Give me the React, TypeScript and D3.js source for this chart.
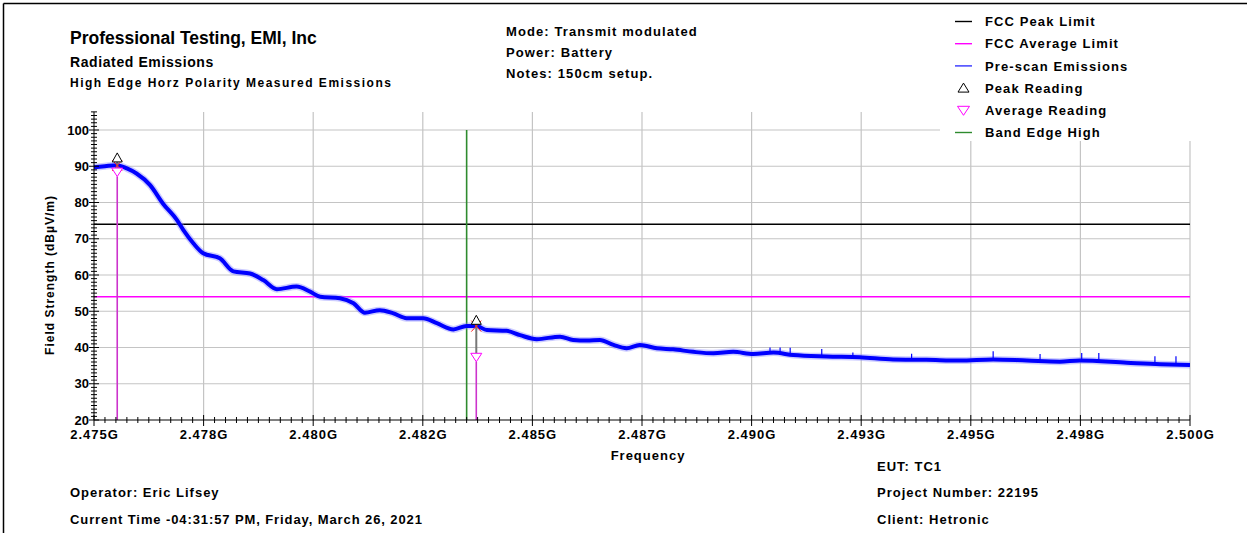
import React from 'react';
import * as d3 from 'd3';

// Frequency axis (GHz) and labels
const xTickFreqs = [2.475, 2.4775, 2.48, 2.4825, 2.485, 2.4875, 2.49, 2.4925, 2.495, 2.4975, 2.5];
const xTickLabels = ['2.475G', '2.478G', '2.480G', '2.482G', '2.485G', '2.487G', '2.490G', '2.493G', '2.495G', '2.498G', '2.500G'];
const yTicks = [20, 30, 40, 50, 60, 70, 80, 90, 100];

// Pre-scan emissions trace (GHz, dBµV/m)
const traceFreqs = [
  2.475, 2.47525, 2.47552, 2.47575, 2.47597, 2.47628, 2.47658, 2.47689, 2.47704, 2.47727,
  2.47749, 2.47787, 2.47818, 2.47856, 2.47886, 2.47917, 2.47962, 2.47993, 2.48016, 2.48061,
  2.48092, 2.48118, 2.48152, 2.48183, 2.48213, 2.48251, 2.48282, 2.4832, 2.4835, 2.48373,
  2.48396, 2.48441, 2.48472, 2.4851, 2.48563, 2.48593, 2.48624, 2.48654, 2.48685, 2.48715,
  2.48745, 2.48784, 2.48821, 2.48867, 2.48913, 2.48958, 2.49004, 2.4905, 2.49095, 2.49171,
  2.49247, 2.49323, 2.49399, 2.49475, 2.49551, 2.49628, 2.49703, 2.49749, 2.49856, 2.49932, 2.5,
];
const traceLevels = [
  89.7, 90.0, 90.3, 89.4, 88.0, 84.8, 79.6, 75.2, 72.4, 68.7,
  66.0, 64.6, 61.0, 60.4, 58.6, 56.1, 56.8, 55.4, 54.0, 53.6,
  52.2, 49.6, 50.3, 49.4, 48.1, 48.1, 46.7, 45.0, 45.9, 45.9,
  44.8, 44.6, 43.4, 42.3, 43.0, 42.1, 41.9, 42.1, 40.7, 39.8,
  40.7, 39.8, 39.5, 38.8, 38.4, 38.8, 38.2, 38.6, 37.9, 37.5,
  37.3, 36.7, 36.6, 36.4, 36.7, 36.4, 36.1, 36.4, 35.8, 35.4, 35.2,
];

// Isolated spikes on the noise floor (GHz, low, high dBµV/m)
const spikeFreqs = [2.49042, 2.49065, 2.49088, 2.4916, 2.49231, 2.49365, 2.49551, 2.49658, 2.49753, 2.49792, 2.4992, 2.49968];
const spikeLows = [38.5, 38.4, 38.2, 37.6, 37.3, 36.6, 36.7, 36.4, 36.4, 36.3, 35.5, 35.3];
const spikeHighs = [40.0, 40.0, 39.9, 39.6, 38.6, 38.3, 39.0, 38.2, 38.5, 38.5, 37.6, 37.6];

// Limits and band edge
const fccPeakLimit = 74;
const fccAverageLimit = 54;
const bandEdgeHigh = 2.4835;

// Final readings
const readingFreqs = [2.47553, 2.48372];
const peakReadings = [91.2, 46.4];
const averageReadings = [89.5, 38.4];
const prescanAtReading = [90.2, 45.9];

const legendLabels = ['FCC Peak Limit', 'FCC Average Limit', 'Pre-scan Emissions', 'Peak Reading', 'Average Reading', 'Band Edge High'];
const legendColors = ['#000000', '#ff00ff', '#3333ff', '#000000', '#ff00ff', '#2e8b2e'];

const font = '"Liberation Sans", Arial, sans-serif';

export default function App() {
  const x = d3.scaleLinear().domain([2.475, 2.5]).range([94, 1190]);
  const y = d3.scaleLinear().domain([20, 100]).range([420, 130]);
  const yTop = y(105);
  const x0 = x(2.475);
  const x1 = x(2.5);
  const y0 = y(20);

  const line = d3
    .line<number>()
    .x((_, i) => x(traceFreqs[i]))
    .y((d) => y(d))
    .curve(d3.curveMonotoneX);
  const tracePath = line(traceLevels) || '';

  const yMinor = d3.range(21, 106).filter((v) => v % 10 !== 0);
  const xMinor = d3.range(1, 100).filter((i) => i % 10 !== 0).map((i) => 2.475 + i * 0.00025);

  const textStyle = { fontFamily: font, fontWeight: 700 as const, fill: '#000' };

  return (
    <div>
      <svg width={1247} height={533} style={{ position: 'absolute', left: 0, top: 0, background: '#fff' }}>
        {/* frame */}
        <line x1={3.5} y1={3.5} x2={1247} y2={3.5} stroke="#000" strokeWidth={1.5} />
        <line x1={3.5} y1={3.5} x2={3.5} y2={533} stroke="#000" strokeWidth={1.5} />

        {/* grid */}
        {xTickFreqs.slice(1).map((f) => (
          <line key={'gx' + f} x1={x(f)} x2={x(f)} y1={yTop} y2={y0} stroke="#c4c4c4" strokeWidth={1.2} />
        ))}
        {yTicks.slice(1).map((v) => (
          <line key={'gy' + v} x1={x0} x2={x1} y1={y(v)} y2={y(v)} stroke="#c4c4c4" strokeWidth={1.2} />
        ))}

        {/* limit lines */}
        <line x1={x0} x2={x1} y1={y(fccPeakLimit)} y2={y(fccPeakLimit)} stroke="#000" strokeWidth={1.4} />
        <line x1={x0} x2={x1} y1={y(fccAverageLimit)} y2={y(fccAverageLimit)} stroke="#ff00ff" strokeWidth={1.4} />

        {/* band edge */}
        <line x1={x(bandEdgeHigh)} x2={x(bandEdgeHigh)} y1={y(100)} y2={y0} stroke="#2e8b2e" strokeWidth={1.6} />

        {/* pre-scan trace */}
        <path d={tracePath} fill="none" stroke="#7f7fff" strokeWidth={7} strokeOpacity={0.4} strokeLinejoin="round" />
        <path d={tracePath} fill="none" stroke="#0000ff" strokeWidth={4} strokeLinejoin="round" />
        {spikeFreqs.map((f, i) => (
          <line key={'sp' + i} x1={x(f)} x2={x(f)} y1={y(spikeLows[i])} y2={y(spikeHighs[i])} stroke="#0000ff" strokeWidth={1.2} />
        ))}

        {/* readings */}
        {readingFreqs.map((f, i) => {
          const cx = x(f);
          const yp = y(peakReadings[i]);
          const ya = y(averageReadings[i]);
          const yx = y(prescanAtReading[i]);
          return (
            <g key={'rd' + i}>
              <line x1={cx} x2={cx} y1={yp} y2={ya} stroke="#777" strokeWidth={2} />
              <line x1={cx} x2={cx} y1={ya + 8.5} y2={y0} stroke="#cc33cc" strokeWidth={1.6} />
              <line x1={cx - 5} x2={cx + 5} y1={yx - 5.5} y2={yx + 5.5} stroke="#ff2020" strokeWidth={1} />
              <line x1={cx - 5} x2={cx + 5} y1={yx + 5.5} y2={yx - 5.5} stroke="#ff2020" strokeWidth={1} />
              <path d={`M${cx},${yp - 9} L${cx + 5},${yp} L${cx - 5},${yp} Z`} fill="#fff" stroke="#000" strokeWidth={1} />
              <path d={`M${cx - 5.5},${ya} L${cx + 5.5},${ya} L${cx},${ya + 8.5} Z`} fill="#fff" stroke="#ff00ff" strokeWidth={1} />
            </g>
          );
        })}

        {/* axes */}
        <line x1={x0} x2={x0} y1={yTop} y2={y0} stroke="#000" strokeWidth={1} />
        <line x1={x0} x2={x1} y1={y0} y2={y0} stroke="#000" strokeWidth={1} />
        {yMinor.map((v) => (
          <line key={'ym' + v} x1={x0 - 3} x2={x0 + 3} y1={y(v)} y2={y(v)} stroke="#000" strokeWidth={1} />
        ))}
        {yTicks.map((v) => (
          <line key={'yM' + v} x1={x0 - 5} x2={x0 + 5} y1={y(v)} y2={y(v)} stroke="#000" strokeWidth={1} />
        ))}
        {xMinor.map((f, i) => (
          <line key={'xm' + i} x1={x(f)} x2={x(f)} y1={y0 - 3} y2={y0 + 3} stroke="#000" strokeWidth={1} />
        ))}
        {xTickFreqs.map((f) => (
          <line key={'xM' + f} x1={x(f)} x2={x(f)} y1={y0 - 5} y2={y0 + 6} stroke="#000" strokeWidth={1} />
        ))}

        {/* tick labels */}
        {yTicks.map((v) => (
          <text key={'yl' + v} x={89} y={y(v) + 4.6} textAnchor="end" fontSize={13} style={textStyle}>
            {v}
          </text>
        ))}
        {xTickFreqs.map((f, i) => (
          <text key={'xl' + f} x={x(f) + 0.5} y={438.5} textAnchor="middle" fontSize={13} letterSpacing={1} style={textStyle}>
            {xTickLabels[i]}
          </text>
        ))}

        {/* axis titles */}
        <text x={648} y={459.5} textAnchor="middle" fontSize={13} letterSpacing={1} style={textStyle}>
          Frequency
        </text>
        <text transform={`translate(54,${y(60)}) rotate(-90)`} textAnchor="middle" fontSize={12} letterSpacing={1} style={textStyle}>
          Field Strength (dBµV/m)
        </text>

        {/* header */}
        <text x={70} y={43.5} fontSize={17.5} style={textStyle}>
          Professional Testing, EMI, Inc
        </text>
        <text x={70} y={67} fontSize={14} letterSpacing={0.6} style={textStyle}>
          Radiated Emissions
        </text>
        <text x={70} y={87} fontSize={12} letterSpacing={1.5} style={textStyle}>
          High Edge Horz Polarity Measured Emissions
        </text>
        {['Mode: Transmit modulated', 'Power: Battery', 'Notes: 150cm setup.'].map((t, i) => (
          <text key={'md' + i} x={506} y={35.5 + i * 21} fontSize={13} letterSpacing={1.1} style={textStyle}>
            {t}
          </text>
        ))}

        {/* legend */}
        <rect x={940} y={5} width={307} height={136} fill="#fff" />
        {legendLabels.map((t, i) => {
          const cy = 21.5 + i * 22.2;
          const c = legendColors[i];
          let sym;
          if (i === 3) {
            sym = <path d={`M963.5,${cy - 5} L969,${cy + 4} L958,${cy + 4} Z`} fill="#fff" stroke={c} strokeWidth={1} />;
          } else if (i === 4) {
            sym = <path d={`M957.5,${cy - 4} L969.5,${cy - 4} L963.5,${cy + 5} Z`} fill="#fff" stroke={c} strokeWidth={1} />;
          } else {
            sym = <line x1={955} x2={972} y1={cy} y2={cy} stroke={c} strokeWidth={1.4} />;
          }
          return (
            <g key={'lg' + i}>
              {sym}
              <text x={985} y={cy + 4.7} fontSize={13} letterSpacing={1.1} style={textStyle}>
                {t}
              </text>
            </g>
          );
        })}

        {/* footer */}
        <text x={70} y={496.5} fontSize={13} letterSpacing={1} style={textStyle}>
          Operator: Eric Lifsey
        </text>
        <text x={70} y={523.5} fontSize={13} letterSpacing={0.9} style={textStyle}>
          Current Time -04:31:57 PM, Friday, March 26, 2021
        </text>
        <text x={877} y={470.5} fontSize={13} letterSpacing={1} style={textStyle}>
          EUT: TC1
        </text>
        <text x={877} y={496.5} fontSize={13} letterSpacing={1} style={textStyle}>
          Project Number: 22195
        </text>
        <text x={877} y={523.5} fontSize={13} letterSpacing={1} style={textStyle}>
          Client: Hetronic
        </text>
      </svg>
    </div>
  );
}
